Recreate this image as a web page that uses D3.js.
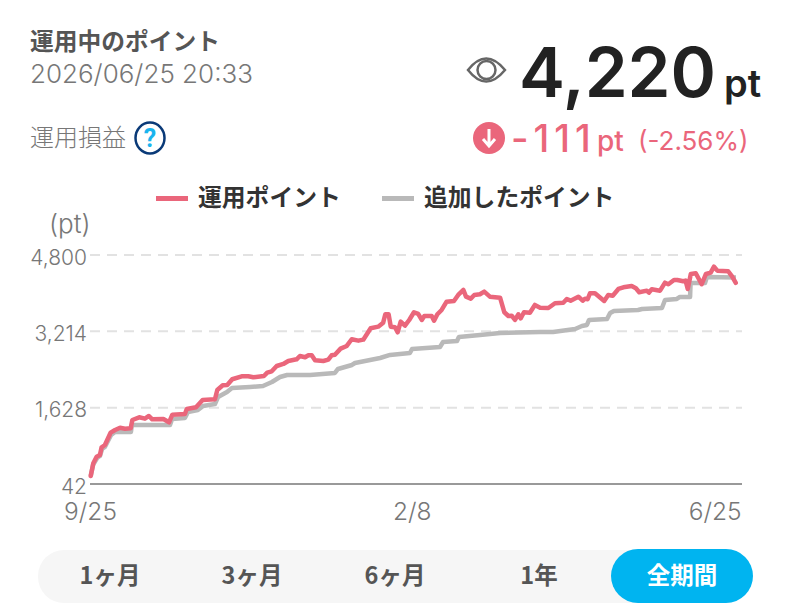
<!DOCTYPE html>
<html><head><meta charset="utf-8">
<script src="https://cdn.jsdelivr.net/npm/d3@7"></script>
<style>html,body{margin:0;padding:0;background:#fff}svg{display:block}text{font-family:"Noto Sans CJK JP","Noto Sans",sans-serif}</style>
</head><body><svg id="c" width="794" height="612"></svg>
<script>
const yTicks = [42, 1628, 3214, 4800];
const xTickDays = [0, 136, 273];
const xTickLabels = ["9/25", "2/8", "6/25"];
const ranges = ["1ヶ月", "3ヶ月", "6ヶ月", "1年", "全期間"];
const seriesNames = ["運用ポイント", "追加したポイント"];

const investedDays = [0.3,1.4,2.8,4.2,4.9,6.3,8.7,10.6,12.7,14.8,17.2,17.9,20.8,23.2,24.9,26.3,31,33.4,34.8,40.1,40.9,44.8,47.6,52.8,53.8,56.1,58,60.1,64.1,66.9,69,73.5,74.9,76.8,78.9,81.7,83.8,87.3,88.7,90.9,92.3,93.7,95.1,98.6,100.7,102.1,103.5,105.9,108.5,110.6,113.4,115.5,118.6,121.8,123.9,124.8,126.2,127.1,128.9,130,131.3,133.1,134.9,136.9,138.7,140.2,141.3,144.4,145.4,146.8,148.6,150.7,153.8,155.6,157.8,158.9,160.9,162.4,164.8,166.6,169,173.3,175.1,176.8,178.2,179.6,181,182,183.4,185.9,188,190.2,193.7,196.5,200,201.5,203.1,206.4,208.2,209.2,210.3,211.3,213.4,217.3,219,220.9,223.3,225.4,228.9,230.7,232.1,235.3,236.2,237.4,240.9,243,244.4,246.8,248.2,250.7,251.7,252.6,253.9,256,258.5,260.3,262.3,263.7,265.1,269.7,271.4,272.9];
const investedValues = [208,472,609,645,805,852,1108,1164,1212,1191,1199,1372,1428,1399,1455,1386,1393,1324,1482,1497,1600,1636,1788,1802,1995,2093,2099,2218,2280,2280,2259,2286,2355,2384,2494,2536,2598,2633,2702,2675,2716,2716,2612,2598,2625,2716,2729,2854,2910,3049,3020,3041,3277,3311,3394,3568,3568,3311,3298,3194,3415,3332,3450,3610,3575,3450,3533,3533,3435,3568,3658,3830,3845,3969,4073,3934,3893,3969,3984,4038,3934,3913,3610,3533,3539,3450,3568,3485,3610,3602,3762,3705,3699,3797,3809,3886,3851,3934,3851,3893,3880,4005,4005,3845,3969,3955,4094,4129,4156,4109,4025,4059,4017,4088,4059,4225,4192,4281,4281,4254,4267,4094,4406,4420,4192,4406,4433,4558,4474,4462,4350,4220];

const addedDays = [0.3,1.3,3,4.2,5.1,6.3,8.9,10.6,17.3,17.7,33.8,34.7,40.1,41.4,45.6,47.8,52.8,54.1,57.9,60,67.6,73.1,76.9,80.3,83.3,93,103.5,104.8,110.7,112,122.6,126.8,135.2,136.1,147.9,149.2,155.1,155.9,164.8,173.3,190.2,195.7,205,207.9,210,210.9,218.5,219.8,221.4,231.6,233.3,241.7,243,248,249.3,253.6,253.8,259.9,260.7,273];
const addedValues = [208,437,582,624,769,811,1060,1123,1123,1268,1268,1393,1413,1538,1580,1663,1704,1850,1954,2037,2058,2078,2162,2265,2307,2307,2349,2432,2515,2556,2660,2723,2764,2847,2889,2993,3014,3097,3138,3180,3201,3201,3263,3325,3346,3450,3471,3595,3637,3658,3679,3699,3866,3886,3928,3928,4219,4219,4343,4331];

const RED = "#ea667b", GRAY = "#b9b9b9", DARK = "#222";
const svg = d3.select("#c");
const x = d3.scaleLinear().domain([0, 273]).range([90, 736]);
const y = d3.scaleLinear().domain([42, 4800]).range([484, 255]);

function label(px, py, s, size, fill, weight, anchor, family) {
  const t = svg.append("text").attr("x", px).attr("y", py).attr("font-size", size).attr("fill", fill)
    .attr("font-weight", weight || 400).attr("text-anchor", anchor || "start").text(s);
  if (family) t.style("font-family", family);
  return t;
}

// header
label(30, 50, "運用中のポイント", 23.75, "#555", 700);
label(30, 83, "2026/06/25 20:33", 26, "#777", 300, "start", "Inter");
label(30, 146, "運用損益", 24, "#777", 300);
svg.append("ellipse").attr("cx", 150).attr("cy", 138).attr("rx", 14.5).attr("ry", 15.5).attr("fill", "#fff").attr("stroke", "#0a3a78").attr("stroke-width", 2.5);
label(150, 147, "?", 25, "#1ab4ee", 700, "middle", "Roboto");

// eye icon
svg.append("path").attr("d", "M468 70 Q486 47 505 70 Q486 93 468 70 Z").attr("fill", "none").attr("stroke", "#666").attr("stroke-width", 2.5);
svg.append("circle").attr("cx", 486.5).attr("cy", 70).attr("r", 9).attr("fill", "none").attr("stroke", "#666").attr("stroke-width", 2.5);

label(519, 97, "4,220", 69, DARK, 600, "start", "Inter");
label(724, 97, "pt", 38, DARK, 600, "start", "Inter");

// loss line
svg.append("circle").attr("cx", 489).attr("cy", 138).attr("r", 16).attr("fill", RED);
svg.append("path").attr("d", "M489 129 V145 M483 139 L489 146 L495 139").attr("fill", "none").attr("stroke", "#fff").attr("stroke-width", 3);
label(511, 152, "-111", 38, RED, 500, "start", "Inter").attr("letter-spacing", 5);
label(597, 151, "pt", 28, RED, 500, "start", "Inter");
label(638, 150, "(-2.56%)", 26, RED, 400, "start", "Inter");

// legend
svg.append("rect").attr("x", 156).attr("y", 196).attr("width", 32).attr("height", 5).attr("fill", RED);
label(198, 206, seriesNames[0], 23.8, "#333", 700);
svg.append("rect").attr("x", 382).attr("y", 196).attr("width", 32).attr("height", 5).attr("fill", GRAY);
label(424, 206, seriesNames[1], 23.8, "#333", 700);

// axes
label(49, 233, "(pt)", 26, "#777", 300, "start", "Inter");
const yAxis = svg.append("g").attr("transform", "translate(90,0)")
  .call(d3.axisLeft(y).tickValues(yTicks).tickSize(0).tickPadding(3).tickFormat(d3.format(",")));
yAxis.select(".domain").remove();
yAxis.selectAll("text").attr("font-size", 21).attr("fill", "#777").style("font-family", "Inter").attr("font-weight", 300).attr("dy", "0.44em");
svg.append("g").selectAll("line").data(yTicks.slice(1)).join("line")
  .attr("x1", 90).attr("x2", 742).attr("y1", d => y(d)).attr("y2", d => y(d))
  .attr("stroke", "#e2e2e2").attr("stroke-width", 2).attr("stroke-dasharray", "10 7");
svg.append("line").attr("x1", 90).attr("x2", 742).attr("y1", y(42)).attr("y2", y(42)).attr("stroke", "#999").attr("stroke-width", 2);

const xAxis = svg.append("g").attr("transform", "translate(0,484)")
  .call(d3.axisBottom(x).tickValues(xTickDays).tickSize(0).tickPadding(19).tickFormat((d, i) => xTickLabels[i]));
xAxis.select(".domain").remove();
xAxis.selectAll("text").attr("font-size", 24.5).attr("fill", "#777").style("font-family", "Inter").attr("font-weight", 300);
xAxis.selectAll("text").filter((d, i) => i === 2).attr("text-anchor", "end").attr("dx", 5);

// lines
const line = d3.line().x(d => x(d[0])).y(d => y(d[1]));
svg.append("path").datum(d3.zip(addedDays, addedValues)).attr("d", line)
  .attr("fill", "none").attr("stroke", GRAY).attr("stroke-width", 4.5).attr("stroke-linejoin", "round");
svg.append("path").datum(d3.zip(investedDays, investedValues)).attr("d", line)
  .attr("fill", "none").attr("stroke", RED).attr("stroke-width", 4.5).attr("stroke-linejoin", "round").attr("stroke-linecap", "round");

// range selector
svg.append("rect").attr("x", 38).attr("y", 550).attr("width", 712).attr("height", 53).attr("rx", 26).attr("fill", "#f6f6f6");
svg.append("rect").attr("x", 611).attr("y", 549).attr("width", 142).attr("height", 54).attr("rx", 27).attr("fill", "#00b4f0");
const rangeX = [110, 252, 395, 539, 682];
ranges.forEach((r, i) => label(rangeX[i], 584, r, 23.5, i === 4 ? "#fff" : "#555", 700, "middle"));
</script></body></html>
